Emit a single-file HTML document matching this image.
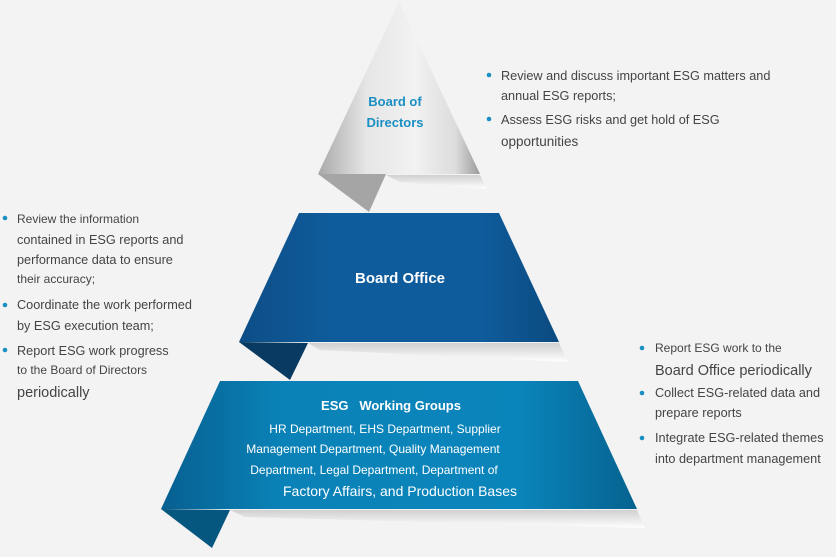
<!DOCTYPE html>
<html><head><meta charset="utf-8"><style>
html,body{margin:0;padding:0;background:#f3f3f3;}
svg{display:block;font-family:"Liberation Sans",Arial,sans-serif;}
.t{fill:#444;font-size:12.7px;}
</style></head><body>
<svg width="836" height="557" viewBox="0 0 836 557">
<defs>
<linearGradient id="g1" x1="0" x2="1" y1="0" y2="0">
<stop offset="0" stop-color="#a9a9a9"/><stop offset="0.3" stop-color="#e6e6e6"/><stop offset="0.6" stop-color="#f2f2f2"/><stop offset="0.85" stop-color="#dcdcdc"/><stop offset="1" stop-color="#9a9a9a"/>
</linearGradient>
<linearGradient id="g2" x1="0" x2="1" y1="0" y2="0">
<stop offset="0" stop-color="#0d4d86"/><stop offset="0.3" stop-color="#0f5c9c"/><stop offset="0.75" stop-color="#0f5c9c"/><stop offset="1" stop-color="#0b4a80"/>
</linearGradient>
<linearGradient id="g3" x1="0" x2="1" y1="0" y2="0">
<stop offset="0" stop-color="#075f90"/><stop offset="0.25" stop-color="#0a82b7"/><stop offset="0.75" stop-color="#0a85bb"/><stop offset="1" stop-color="#06628f"/>
</linearGradient>
<linearGradient id="sh" x1="0" x2="0" y1="0" y2="1">
<stop offset="0" stop-color="#d0d0d0"/><stop offset="1" stop-color="#ffffff"/>
</linearGradient>
</defs>
<!-- top -->
<polygon points="386,175 480,175 487,189 400,182" fill="url(#sh)"/>
<polygon points="399,2 318,174 480,174" fill="url(#g1)"/>
<polygon points="318,174 386,174 369,212" fill="#a5a5a5"/>
<!-- middle -->
<polygon points="308,343 559,343 568,362 320,350" fill="url(#sh)"/>
<polygon points="299,213 499,213 559,342 239,342" fill="url(#g2)"/>
<polygon points="239,342 308,343 290,380" fill="#083a62"/>
<!-- bottom -->
<polygon points="230,510 637,510 645,528 245,517" fill="url(#sh)"/>
<polygon points="220,381 578,381 637,509 161,509" fill="url(#g3)"/>
<polygon points="161,509 230,510 212,548" fill="#055780"/>

<g font-weight="bold" fill="#1a8fc4" font-size="13" text-anchor="middle">
<text x="395" y="106">Board of</text><text x="395" y="127">Directors</text></g>
<text x="400" y="283" fill="#fff" font-weight="bold" font-size="15" text-anchor="middle">Board Office</text>
<g fill="#fff" text-anchor="middle">
<text x="391" y="410" font-weight="bold" font-size="13">ESG&#160;&#160; Working Groups</text>
<text x="385" y="433" font-size="12">HR Department, EHS Department, Supplier</text>
<text x="373" y="453" font-size="12">Management Department, Quality Management</text>
<text x="374" y="474" font-size="12">Department, Legal Department, Department of</text>
<text x="400" y="496" font-size="14">Factory Affairs, and Production Bases</text>
</g>

<g fill="#1a8fc4">
<circle cx="489" cy="75" r="2.3"/><circle cx="489" cy="119" r="2.3"/>
<circle cx="5" cy="218" r="2.3"/><circle cx="5" cy="305" r="2.3"/><circle cx="5" cy="350" r="2.3"/>
<circle cx="642" cy="348" r="2.3"/><circle cx="642" cy="393" r="2.3"/><circle cx="642" cy="438" r="2.3"/>
</g>
<g class="t">
<text x="501" y="80">Review and discuss important ESG matters and</text>
<text x="501" y="100">annual ESG reports;</text>
<text x="501" y="124">Assess ESG risks and get hold of ESG</text>
<text x="501" y="146" font-size="13.5">opportunities</text>

<text x="17" y="223" font-size="12">Review the information</text>
<text x="17" y="244">contained in ESG reports and</text>
<text x="17" y="264">performance data to ensure</text>
<text x="17" y="283" font-size="12">their accuracy;</text>
<text x="17" y="309">Coordinate the work performed</text>
<text x="17" y="330">by ESG execution team;</text>
<text x="17" y="355">Report ESG work progress</text>
<text x="17" y="374" font-size="12">to the Board of Directors</text>
<text x="17" y="397" font-size="14.5">periodically</text>

<text x="655" y="352" font-size="12">Report ESG work to the</text>
<text x="655" y="375" font-size="14.5">Board Office periodically</text>
<text x="655" y="397">Collect ESG-related data and</text>
<text x="655" y="417">prepare reports</text>
<text x="655" y="442">Integrate ESG-related themes</text>
<text x="655" y="463">into department management</text>
</g>
</svg>
</body></html>
